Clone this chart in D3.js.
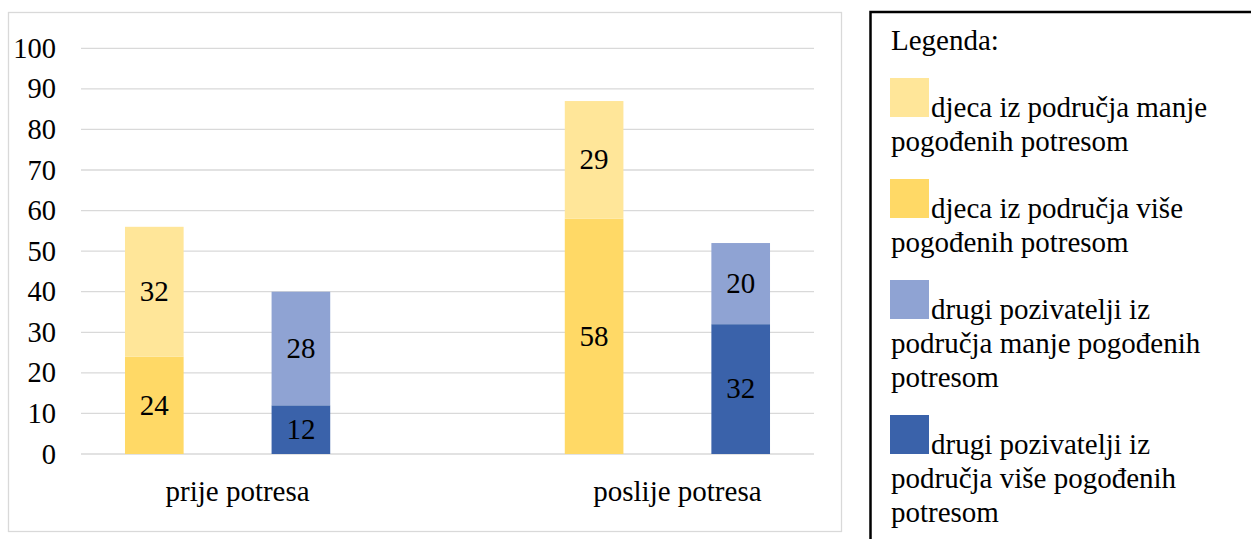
<!DOCTYPE html>
<html>
<head>
<meta charset="utf-8">
<script src="https://cdn.jsdelivr.net/npm/d3@7"></script>
<style>
  body { margin: 0; background: #fff; }
  svg { display: block; }
</style>
</head>
<body>
<div id="viz"></div>
<script>
// data
const categories = ["prije potresa", "poslije potresa"];
const djecaVise = [24, 58];
const djecaManje = [32, 29];
const drugiVise = [12, 32];
const drugiManje = [28, 20];
const yTicks = [0, 10, 20, 30, 40, 50, 60, 70, 80, 90, 100];
const legendTitle = "Legenda:";
const legendNames = [
    "djeca iz područja manje pogođenih potresom",
    "djeca iz područja više pogođenih potresom",
    "drugi pozivatelji iz područja manje pogođenih potresom",
    "drugi pozivatelji iz područja više pogođenih potresom"
];
const colors = ["#FFE699", "#FFD966", "#8FA3D3", "#3A62AA"];

const serif = "'Liberation Serif'";

const svg = d3.select("#viz").append("svg")
    .attr("width", 1251)
    .attr("height", 539);

// chart frame
svg.append("rect")
    .attr("x", 8.5).attr("y", 12.5)
    .attr("width", 833).attr("height", 519)
    .attr("fill", "none")
    .attr("stroke", "#D9D9D9")
    .attr("stroke-width", 1.3);

const y = d3.scaleLinear()
    .domain([0, 100])
    .range([454, 48.3]);

// five slots: two bars per category with an empty slot between the categories
const slots = ["0-djeca", "0-drugi", "gap", "1-djeca", "1-drugi"];
const x = d3.scaleBand()
    .domain(slots)
    .range([81, 814])
    .paddingInner(0.6)
    .paddingOuter(0.3);

// gridlines
svg.append("g")
    .selectAll("line")
    .data(yTicks)
    .enter()
    .append("line")
    .attr("x1", 81).attr("x2", 814)
    .attr("y1", d => y(d)).attr("y2", d => y(d))
    .attr("stroke", "#D9D9D9")
    .attr("stroke-width", 1.3);

// y axis labels
const yAxis = d3.axisLeft(y).tickValues(yTicks).tickSize(0).tickPadding(0);
const yg = svg.append("g")
    .attr("transform", "translate(56,0)")
    .call(yAxis);
yg.select(".domain").remove();
yg.selectAll("text")
    .style("font-family", serif)
    .style("font-size", "28.5px")
    .attr("fill", "#000")
    .attr("dy", "0.32em");

// stacked segments
const segments = [];
categories.forEach((c, i) => {
    segments.push({ slot: i + "-djeca", y0: 0, v: djecaVise[i], color: colors[1] });
    segments.push({ slot: i + "-djeca", y0: djecaVise[i], v: djecaManje[i], color: colors[0] });
    segments.push({ slot: i + "-drugi", y0: 0, v: drugiVise[i], color: colors[3] });
    segments.push({ slot: i + "-drugi", y0: drugiVise[i], v: drugiManje[i], color: colors[2] });
});

svg.append("g")
    .selectAll("rect")
    .data(segments)
    .enter()
    .append("rect")
    .attr("x", d => x(d.slot))
    .attr("y", d => y(d.y0 + d.v))
    .attr("width", x.bandwidth())
    .attr("height", d => y(d.y0) - y(d.y0 + d.v))
    .attr("fill", d => d.color);

svg.append("g")
    .selectAll("text")
    .data(segments)
    .enter()
    .append("text")
    .attr("x", d => x(d.slot) + x.bandwidth() / 2)
    .attr("y", d => y(d.y0 + d.v / 2))
    .attr("dy", "0.32em")
    .attr("text-anchor", "middle")
    .style("font-family", serif)
    .style("font-size", "29px")
    .text(d => d.v);

// category labels
svg.append("g")
    .selectAll("text")
    .data(categories)
    .enter()
    .append("text")
    .attr("x", (d, i) => (x(i + "-djeca") + x(i + "-drugi") + x.bandwidth()) / 2 + 10)
    .attr("y", 501)
    .attr("text-anchor", "middle")
    .style("font-family", serif)
    .style("font-size", "29px")
    .text(d => d);

// legend box
const lg = svg.append("g");
lg.append("rect")
    .attr("x", 870.5).attr("y", 12)
    .attr("width", 420).attr("height", 560)
    .attr("fill", "none")
    .attr("stroke", "#000")
    .attr("stroke-width", 2.5);

lg.append("text")
    .attr("x", 891).attr("y", 50)
    .style("font-family", serif)
    .style("font-size", "29px")
    .text(legendTitle);

const sw = 39, lineStep = 34, maxRight = 1240;
let entryTop = 78;
legendNames.forEach((name, i) => {
    lg.append("rect")
        .attr("x", 890).attr("y", entryTop)
        .attr("width", sw).attr("height", sw)
        .attr("fill", colors[i]);

    // wrap words: first line starts after the swatch
    const words = name.split(" ");
    const lines = [];
    let line = [];
    let startX = 931;
    const probe = lg.append("text")
        .style("font-family", serif)
        .style("font-size", "29px");
    words.forEach(w => {
        const test = line.concat(w).join(" ");
        probe.text(test);
        if (line.length && startX + probe.node().getComputedTextLength() > maxRight) {
            lines.push({ x: startX, t: line.join(" ") });
            line = [w];
            startX = 891;
        } else {
            line.push(w);
        }
    });
    lines.push({ x: startX, t: line.join(" ") });
    probe.remove();

    lines.forEach((l, k) => {
        lg.append("text")
            .attr("x", l.x)
            .attr("y", entryTop + sw + k * lineStep)
            .style("font-family", serif)
            .style("font-size", "29px")
            .text(l.t);
    });
    entryTop += sw + (lines.length - 1) * lineStep + 28;
});
</script>
</body>
</html>
